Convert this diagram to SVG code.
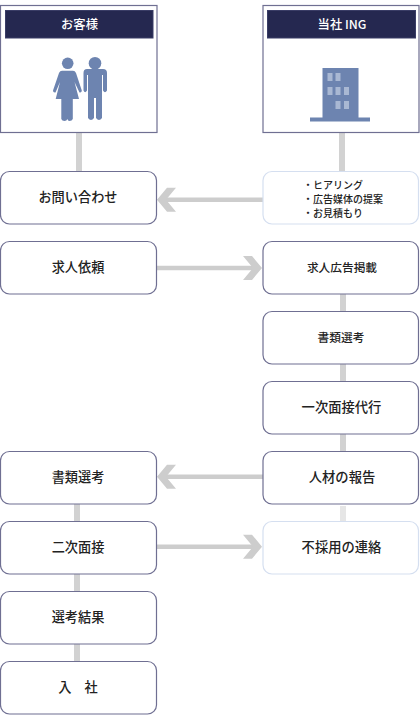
<svg xmlns="http://www.w3.org/2000/svg" width="420" height="718" viewBox="0 0 420 718">
<style>
text{font-family:"Noto Sans CJK JP","Noto Sans",sans-serif;text-anchor:middle;fill:#222}
.b{fill:#fff;stroke:#6f6f92;stroke-width:1.2}
.l{fill:#fff;stroke:#d5dff0;stroke-width:1.2}
.t{font-size:13.200px;font-weight:500}
.s{font-size:11.700px;font-weight:500}
.m{font-size:13.300px;font-weight:500}
.i{font-size:10px;font-weight:500;text-anchor:start}
.h{fill:#252850;stroke:#3a3d66;stroke-width:1}
.ht{font-size:12.300px;fill:#fff;font-weight:500}
.c{stroke:#d2d2d2;fill:none;stroke-width:6}
.a{stroke:#cdcdcd;fill:none;stroke-width:4.500}
.ah{fill:#cdcdcd}
.ic{fill:#6d84b0}
.w{fill:#a9b8d3}
.g{stroke:#c3cde0;stroke-width:0.800;fill:none}
</style>
<g id="connectors">
<path class="c" d="M79 133V171"/>
<path class="c" d="M342 133V171"/>
<path class="c" d="M343 294V311"/>
<path class="c" d="M343 364V381"/>
<path class="c" d="M343 434V451"/>
<path d="M343 506V521" stroke="#e6e6e6" stroke-width="6" fill="none"/>
<path class="c" d="M77 504V521"/>
<path class="c" d="M77 574V591"/>
<path class="c" d="M77 644V661"/>
<path class="a" d="M263 199.700H162"/><polygon class="ah" points="157,199.700 167,187.700 176,187.700 166,199.700 176,211.700 167,211.700"/>
<path class="a" d="M157 268H256"/><polygon class="ah" points="262,268 252,256 243,256 253,268 243,280 252,280"/>
<path class="a" d="M263 476.700H162"/><polygon class="ah" points="157,476.700 167,464.700 176,464.700 166,476.700 176,488.700 167,488.700"/>
<path class="a" d="M157 546.700H256"/><polygon class="ah" points="262,546.700 252,534.700 243,534.700 253,546.700 243,558.700 252,558.700"/>
</g>
<g id="customer">
<rect class="b" x="0.500" y="5.500" width="156.500" height="127"/>
<rect class="h" x="5.500" y="10.500" width="147.500" height="27.500"/>
<text class="ht" x="79.500" y="29">お客様</text>
<g class="ic">
<circle cx="67.700" cy="63.300" r="5.800"/>
<path d="M62 70.700H73Q75 70.700 76 73L81.800 90.500Q81.800 93 79.500 92.500L74.500 82L79 99H72.800V119Q72 121 69.500 121Q67.800 121 67.300 119Q66.800 121 64.500 121Q62 121 61.300 119V99H55.700L60 82L55.500 92.500Q53 93 53 90.500L59 73Q60 70.700 62 70.700Z"/>
<circle cx="95" cy="63.300" r="6.300"/>
<path d="M87 69H103Q107 69 107 73V90.500Q105 94 103 90.500V75H102V118Q99 122 96 118V98H94V118Q91 122 88 118V75H87V90.500Q85 94 83.500 90.500V73Q83.500 69 87 69Z"/>
</g>
</g>
<g id="company">
<rect class="b" x="263" y="5.500" width="156" height="127"/>
<rect class="h" x="267.500" y="10.500" width="148" height="27.500"/>
<text class="ht" x="342" y="29">当社 ING</text>
<path class="ic" d="M322.500 68H358.500V117.500H370V121.500H310V117.500H322.500Z"/>
<g class="w">
<rect x="327.500" y="73" width="5" height="8"/><rect x="335.500" y="73" width="5" height="8"/>
<rect x="327.500" y="87" width="5" height="8"/><rect x="335.500" y="87" width="5" height="8"/><rect x="344" y="87" width="5" height="8"/>
<rect x="335.500" y="101" width="5" height="8"/><rect x="344" y="101" width="5" height="8"/>
</g>
</g>
<g id="n1"><rect class="b" x="0.500" y="171.500" width="156" height="52.500" rx="9"/><text class="t" x="78" y="202">お問い合わせ</text></g>
<g id="n2"><rect class="l" x="263" y="171.500" width="155.500" height="52.500" rx="9"/>
<text class="i" x="303" y="189">・ヒアリング</text>
<text class="i" x="303" y="203">・広告媒体の提案</text>
<text class="i" x="303" y="217">・お見積もり</text></g>
<g id="n3"><rect class="b" x="0.500" y="241.500" width="156" height="52.500" rx="9"/><text class="t" x="78" y="272">求人依頼</text></g>
<g id="n4"><rect class="b" x="263" y="241.500" width="155.500" height="52.500" rx="9"/><text class="s" x="342" y="272">求人広告掲載</text></g>
<g id="n5"><rect class="b" x="263" y="311.500" width="155.500" height="52.500" rx="9"/><text class="s" x="341" y="342">書類選考</text></g>
<g id="n6"><rect class="b" x="263" y="381.500" width="155.500" height="52.500" rx="9"/><text class="m" x="341.500" y="412">一次面接代行</text></g>
<g id="n7"><rect class="b" x="263" y="451.500" width="155.500" height="52.500" rx="9"/><text class="m" x="342" y="482">人材の報告</text></g>
<g id="n8"><rect class="l" x="263" y="521.500" width="155.500" height="52.500" rx="9"/><text class="m" x="341.500" y="552">不採用の連絡</text></g>
<g id="n9"><rect class="b" x="0.500" y="451.500" width="156" height="52.500" rx="9"/><text class="t" x="78" y="482">書類選考</text></g>
<g id="n10"><rect class="b" x="0.500" y="521.500" width="156" height="52.500" rx="9"/><text class="t" x="78" y="552">二次面接</text></g>
<g id="n11"><rect class="b" x="0.500" y="591.500" width="156" height="52.500" rx="9"/><text class="t" x="78" y="622">選考結果</text></g>
<g id="n12"><rect class="b" x="0.500" y="661.500" width="156" height="52.500" rx="9"/><text class="t" x="78" y="692">入　社</text></g>
</svg>
